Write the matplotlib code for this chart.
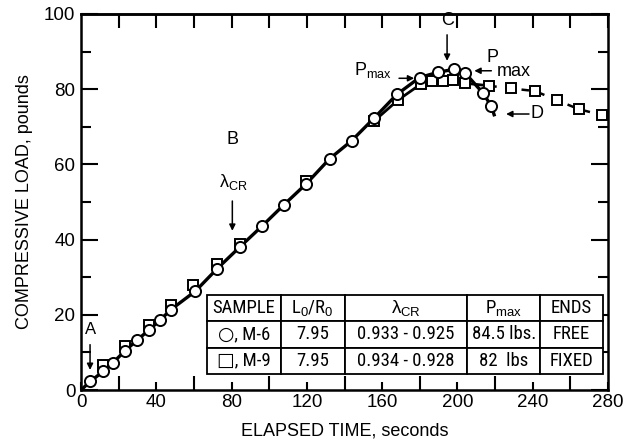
import matplotlib
matplotlib.use("Agg")
import matplotlib.pyplot as plt
from matplotlib import font_manager

# ---- data ----
m6_time = [5.0, 11.9, 16.9, 23.5, 29.7, 35.9, 41.8, 47.8, 60.8, 72.4, 84.3, 96.2,
           107.9, 119.8, 132.1, 143.8, 155.9, 167.8, 179.9, 189.7, 198.2, 203.9,
           213.7, 218.1]
m6_load = [2.3, 5.0, 7.2, 10.5, 13.2, 15.9, 18.5, 21.4, 26.3, 32.3, 38.0, 43.6,
           49.3, 54.9, 61.5, 66.3, 72.4, 78.6, 83.1, 84.5, 85.3, 84.4,
           78.9, 75.4]
m9_time = [11.9, 23.5, 35.9, 47.8, 59.4, 72.4, 84.3, 119.8, 155.9, 168.4, 180.4,
           186.7, 192.3, 197.7, 203.9, 216.9]
m9_load = [6.6, 11.6, 17.2, 22.5, 28.0, 33.6, 38.9, 55.5, 71.6, 77.1, 81.3,
           82.3, 82.3, 82.5, 81.6, 80.9]
m9_tail_time = [216.9, 228.4, 241.2, 252.8, 264.4, 276.8]
m9_tail_load = [80.9, 80.2, 79.5, 77.1, 74.7, 73.1]

col_labels = ["SAMPLE", r"L$_0$/R$_0$", r"$\lambda_{\mathrm{CR}}$", r"P$_{\mathrm{max}}$", "ENDS"]
row_m6 = ["○, M-6", "7.95", "0.933 - 0.925", "84.5 lbs.", "FREE"]
row_m9 = ["□, M-9", "7.95", "0.934 - 0.928", "82  lbs", "FIXED"]

names = {f.name for f in font_manager.fontManager.ttflist}
base_font = "Liberation Sans" if "Liberation Sans" in names else "DejaVu Sans"
narrow = None
for cand in ["Liberation Sans Narrow", "Roboto Condensed", "Open Sans Condensed",
             "Noto Sans Condensed", "DejaVu Sans Condensed"]:
    if cand in names:
        narrow = cand
        break
condensed_dejavu = any(f.name == "DejaVu Sans" and f.stretch == 'condensed'
                       for f in font_manager.fontManager.ttflist)

plt.rcParams['font.family'] = [base_font, 'DejaVu Sans']
plt.rcParams['mathtext.fontset'] = 'custom'
plt.rcParams['mathtext.rm'] = base_font
plt.rcParams['mathtext.it'] = base_font

fig = plt.figure(figsize=(6.29, 4.44), dpi=100)
ax = fig.add_axes([0.1288, 0.1216, 0.8378, 0.8469])

# M-9 line: joins the common loading line near the top, then dashed tail
k = m9_time.index(155.9)
ax.plot(m9_time[k:], m9_load[k:], color='black', lw=2.0, zorder=2)
ax.plot(m9_tail_time, m9_tail_load, color='black', lw=1.8, ls=(0, (3, 3.5)), zorder=2)
ax.plot(m9_time + m9_tail_time[1:], m9_load + m9_tail_load[1:], ls='none',
        marker='s', ms=7.2, mfc='white', mec='black', mew=1.4, zorder=3)
# M-6
ax.plot([0] + m6_time + [219.5], [0] + m6_load + [73.2], color='black', lw=2.4, zorder=2)
ax.plot(m6_time, m6_load, ls='none', marker='o', ms=8, mfc='white', mec='black',
        mew=1.4, zorder=4)

ax.set_xlim(0, 280)
ax.set_ylim(0, 100)
for s in ax.spines.values():
    s.set_linewidth(1.8)

ax.set_xticks(range(0, 281, 40))
ax.set_xticks(range(20, 281, 40), minor=True)
ax.set_yticks(range(0, 101, 20))
ax.set_yticks(range(10, 101, 20), minor=True)
ax.tick_params(axis='x', which='major', direction='in', length=6, width=1.5,
               labelsize=13.5, pad=3, top=False)
ax.tick_params(axis='x', which='minor', direction='in', length=10, width=1.5, top=False)
ax.tick_params(axis='y', which='major', direction='in', length=12, width=1.5,
               labelsize=13.5, pad=4, right=True)
ax.tick_params(axis='y', which='minor', direction='in', length=7, width=1.5, right=True)
top = ax.secondary_xaxis('top')
top.set_xticks(range(20, 281, 20))
top.tick_params(direction='in', length=10, width=1.5, labeltop=False)
top.spines['top'].set_linewidth(1.8)

ax.set_xlabel("ELAPSED TIME, seconds", fontsize=13, labelpad=8)
ax.set_ylabel("COMPRESSIVE LOAD, pounds", fontsize=13, labelpad=8)

arrow = dict(arrowstyle='-|>', color='black', lw=1.1, mutation_scale=9)
# A
ax.text(4.8, 16.0, "A", ha='center', va='center', fontsize=12)
ax.annotate("", xy=(4.8, 4.6), xytext=(4.8, 12.8), arrowprops=arrow)
# B
ax.text(80.4, 66.5, "B", ha='center', va='center', fontsize=13)
ax.text(81, 55.4, r"$\lambda_{\mathrm{CR}}$", ha='center', va='center', fontsize=13)
ax.annotate("", xy=(80.4, 41.6), xytext=(80.4, 51), arrowprops=arrow)
# C
ax.text(194.5, 98.4, "C", ha='center', va='center', fontsize=13)
ax.annotate("", xy=(194.5, 86.8), xytext=(194.5, 95.2), arrowprops=arrow)
# Pmax left
ax.text(165, 85.2, r"P$_{\mathrm{max}}$", ha='right', va='center', fontsize=13)
ax.annotate("", xy=(178.5, 82.9), xytext=(167.5, 82.9), arrowprops=arrow)
# Pmax right
ax.text(218.5, 88.5, "P", ha='center', va='center', fontsize=13)
ax.text(230, 84.6, "max", ha='center', va='center', fontsize=13)
ax.annotate("", xy=(207.5, 84.9), xytext=(219.5, 84.9), arrowprops=arrow)
# D
ax.text(242.5, 73.5, "D", ha='center', va='center', fontsize=13)
ax.annotate("", xy=(224.4, 73.4), xytext=(239.5, 73.4), arrowprops=arrow)

# table
widths = [0.139, 0.121, 0.233, 0.138, 0.119]
tab = ax.table(cellText=[row_m6, row_m9], colLabels=col_labels, colWidths=widths,
               cellLoc='center', bbox=[0.240, 0.043, 0.750, 0.210], zorder=5)
tab.auto_set_font_size(False)
for (r, c), cell in tab.get_celld().items():
    cell.set_linewidth(1.3)
    cell.set_facecolor('white')
    t = cell.get_text()
    if narrow:
        t.set_fontfamily([narrow, 'DejaVu Sans'])
        t.set_fontsize(13.5)
    elif condensed_dejavu:
        t.set_fontfamily(['DejaVu Sans'])
        t.set_fontstretch('condensed')
        t.set_fontsize(12)
    else:
        t.set_fontsize(12)

fig.savefig("out.png", dpi=100)
